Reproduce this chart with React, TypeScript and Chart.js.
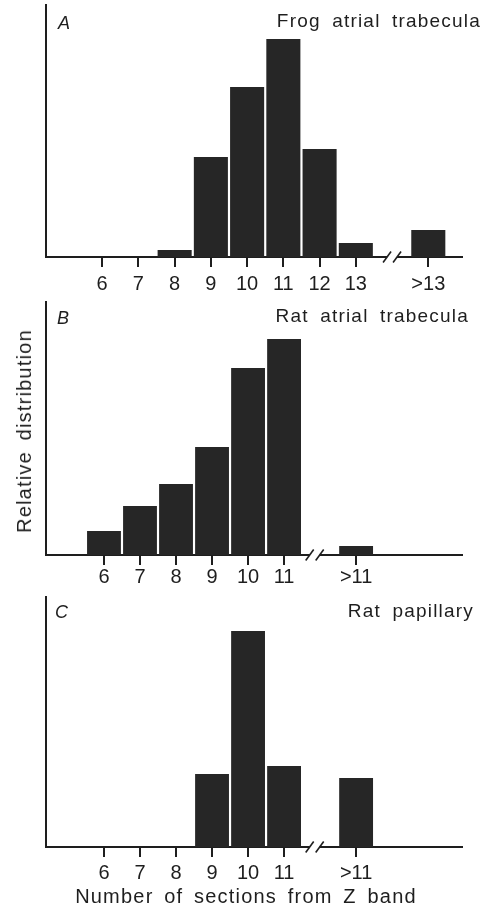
import React, { useEffect, useRef } from 'react';
import { Chart, registerables } from 'chart.js';

Chart.register(...registerables);

// ---- data (arbitrary "relative distribution" units) ----
const categoriesA = [6, 7, 8, 9, 10, 11, 12, 13, 15];
const tickLabelsA = ['6', '7', '8', '9', '10', '11', '12', '13', '>13'];
const valuesA = [0, 0, 7, 100, 170, 218, 108, 14, 27];

const categoriesBC = [6, 7, 8, 9, 10, 11, 13];
const tickLabelsBC = ['6', '7', '8', '9', '10', '11', '>11'];
const valuesB = [24, 49, 71, 108, 187, 216, 9];
const valuesC = [0, 0, 0, 73, 216, 81, 69];

const titles = ['Frog atrial trabecula', 'Rat atrial trabecula', 'Rat papillary'];
const panelLetters = ['A', 'B', 'C'];
const yTitle = 'Relative distribution';
const xTitle = 'Number of sections from Z band';

const FONT = '"Liberation Sans", Arial, Helvetica, sans-serif';
const INK = '#1e1e1e';

const breakPlugin = {
  id: 'axisBreak',
  afterDraw(chart: any, _args: any, opts: any) {
    const v = opts && opts.value;
    if (v == null) return;
    const xs = chart.scales.x;
    const ctx = chart.ctx;
    const px = xs.getPixelForValue(v);
    const y = chart.chartArea.bottom;
    ctx.save();
    ctx.fillStyle = '#ffffff';
    ctx.fillRect(px - 5, y - 3, 10, 6);
    ctx.strokeStyle = INK;
    ctx.lineWidth = 1.6;
    for (const dx of [-5, 5]) {
      ctx.beginPath();
      ctx.moveTo(px + dx - 4, y + 5.5);
      ctx.lineTo(px + dx + 4, y - 5.5);
      ctx.stroke();
    }
    ctx.restore();
  },
};

type PanelProps = {
  cats: number[];
  labels: string[];
  vals: number[];
  yMax: number;
  xMin: number;
  xMax: number;
  breakAt: number;
  top: number;
  height: number;
  padTop: number;
  padBottom: number;
  tickPad: number;
};

function Panel(p: PanelProps) {
  const ref = useRef<HTMLCanvasElement | null>(null);
  useEffect(() => {
    if (!ref.current) return;
    const chart = new Chart(ref.current, {
      type: 'bar',
      data: {
        datasets: [
          {
            data: p.cats.map((x, i) => ({ x, y: p.vals[i] })),
            backgroundColor: '#262626',
            borderWidth: 0,
            barPercentage: 0.94,
            categoryPercentage: 1,
          } as any,
        ],
      },
      options: {
        responsive: false,
        animation: false,
        layout: { padding: { left: 46, right: 31, top: p.padTop, bottom: p.padBottom } },
        plugins: {
          legend: { display: false },
          tooltip: { enabled: false },
          axisBreak: { value: p.breakAt },
        } as any,
        scales: {
          x: {
            type: 'linear',
            offset: false,
            min: p.xMin,
            max: p.xMax,
            afterBuildTicks: (s: any) => {
              s.ticks = p.cats.map((v) => ({ value: v }));
            },
            afterFit: (s: any) => {
              s.height = 40;
            },
            ticks: {
              autoSkip: false,
              maxRotation: 0,
              padding: p.tickPad,
              color: INK,
              font: { family: FONT, size: 20 },
              callback: (v: any) => {
                const i = p.cats.indexOf(Number(v));
                return i >= 0 ? p.labels[i] : '';
              },
            },
            grid: {
              display: true,
              offset: false,
              drawOnChartArea: false,
              drawTicks: true,
              tickLength: 10,
              color: INK,
              lineWidth: 2,
            },
            border: { display: true, color: INK, width: 2 },
          },
          y: {
            min: 0,
            max: p.yMax,
            afterFit: (s: any) => {
              s.width = 0;
            },
            ticks: { display: false },
            grid: { display: false },
            border: { display: true, color: INK, width: 2 },
          },
        } as any,
      },
      plugins: [breakPlugin as any],
    });
    return () => chart.destroy();
  }, []);
  return (
    <canvas
      ref={ref}
      width={493}
      height={p.height}
      style={{ position: 'absolute', left: 0, top: p.top, width: 493, height: p.height }}
    />
  );
}

function Txt(props: {
  text: string;
  baseline: number;
  size: number;
  left?: number;
  right?: number;
  italic?: boolean;
  ls?: number;
  ws?: number;
  center?: number;
}) {
  const { text, baseline, size, left, right, italic, ls = 0, ws = 0, center } = props;
  const style: React.CSSProperties = {
    position: 'absolute',
    top: baseline - 0.8465 * size,
    fontFamily: FONT,
    fontSize: size,
    lineHeight: `${size}px`,
    fontStyle: italic ? 'italic' : 'normal',
    letterSpacing: `${ls}px`,
    wordSpacing: `${ws}px`,
    color: INK,
    whiteSpace: 'nowrap',
  };
  if (center != null) {
    style.left = center;
    style.transform = 'translateX(-50%)';
  } else if (left != null) style.left = left;
  else if (right != null) style.right = right;
  return <div style={style}>{text}</div>;
}

export default function App() {
  return (
    <div
      style={{
        position: 'absolute',
        left: 0,
        top: 0,
        width: 493,
        height: 915,
        background: '#ffffff',
        overflow: 'hidden',
      }}
    >
      <Panel
        cats={categoriesA}
        labels={tickLabelsA}
        vals={valuesA}
        yMax={252}
        xMin={4.45}
        xMax={15.93}
        breakAt={14.0}
        top={0}
        height={300}
        padTop={5}
        padBottom={3}
        tickPad={5}
      />
      <Panel
        cats={categoriesBC}
        labels={tickLabelsBC}
        vals={valuesB}
        yMax={253}
        xMin={4.39}
        xMax={15.94}
        breakAt={11.85}
        top={290}
        height={310}
        padTop={12}
        padBottom={5}
        tickPad={0}
      />
      <Panel
        cats={categoriesBC}
        labels={tickLabelsBC}
        vals={valuesC}
        yMax={250}
        xMin={4.39}
        xMax={15.94}
        breakAt={11.85}
        top={585}
        height={310}
        padTop={12}
        padBottom={8}
        tickPad={4}
      />

      <Txt text={panelLetters[0]} left={58} baseline={29.5} size={18} italic />
      <Txt text={panelLetters[1]} left={57} baseline={324} size={18} italic />
      <Txt text={panelLetters[2]} left={55} baseline={618} size={18} italic />

      <Txt text={titles[0]} right={12} baseline={27} size={19} ls={1.2} ws={5} />
      <Txt text={titles[1]} right={24} baseline={322} size={19} ls={1.2} ws={5} />
      <Txt text={titles[2]} right={19} baseline={617} size={19} ls={1.2} ws={5} />

      <Txt text={xTitle} center={246} baseline={903} size={20} ls={1.2} ws={4} />

      <div
        style={{
          position: 'absolute',
          left: 24,
          top: 431,
          transform: 'translate(-50%, -50%) rotate(-90deg)',
          fontFamily: FONT,
          fontSize: 20,
          lineHeight: '20px',
          letterSpacing: '1.2px',
          wordSpacing: '4px',
          color: INK,
          whiteSpace: 'nowrap',
        }}
      >
        {yTitle}
      </div>
    </div>
  );
}
